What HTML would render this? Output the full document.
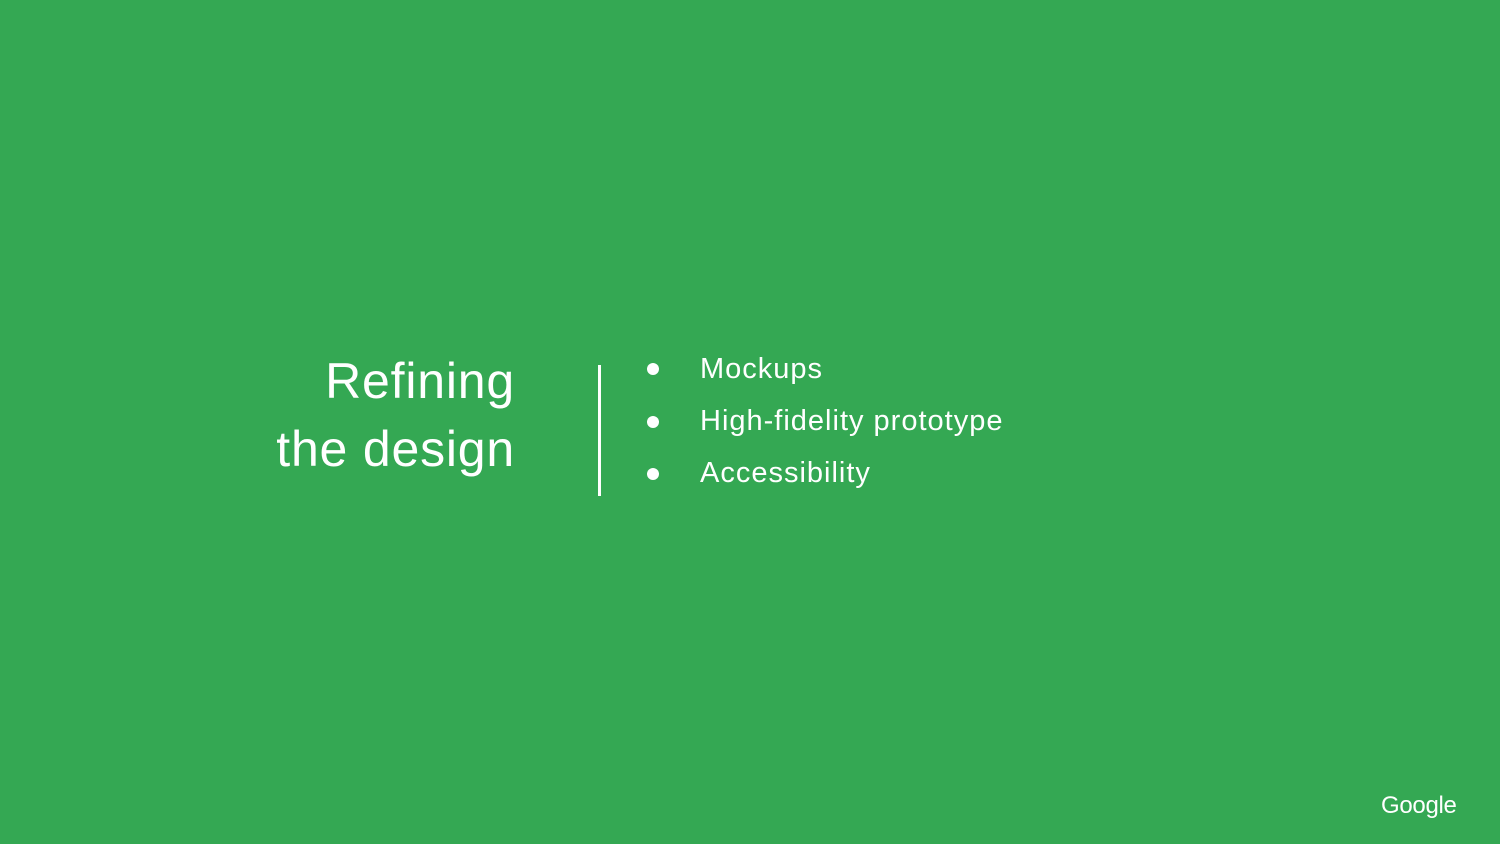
<!DOCTYPE html>
<html><head><style>
html,body{margin:0;padding:0}
body{width:1500px;height:844px;background:#34a853;position:relative;overflow:hidden;font-family:"Liberation Sans",sans-serif;color:#fff}
.t{position:absolute;right:985px;text-align:right;font-size:50px;line-height:50px;white-space:nowrap;letter-spacing:0.8px}
.b{position:absolute;left:700px;font-size:29px;line-height:30px;white-space:nowrap;letter-spacing:1px}
.d{position:absolute;left:647px;width:12px;height:12px;border-radius:50%;background:#fff}
.v{position:absolute;left:598px;top:365px;width:3px;height:131px;background:#fff}
.g{position:absolute;left:1381px;top:791px;font-size:24px;line-height:30px;letter-spacing:-0.3px}
</style></head><body>
<div class="t" style="top:356px">Refining</div>
<div class="t" style="top:424px">the design</div>
<div class="v"></div>
<div class="d" style="top:363px"></div><div class="b" style="top:354px">Mockups</div>
<div class="d" style="top:416px"></div><div class="b" style="top:406px">High-fidelity prototype</div>
<div class="d" style="top:468px"></div><div class="b" style="top:458px">Accessibility</div>
<div class="g">Google</div>
</body></html>
